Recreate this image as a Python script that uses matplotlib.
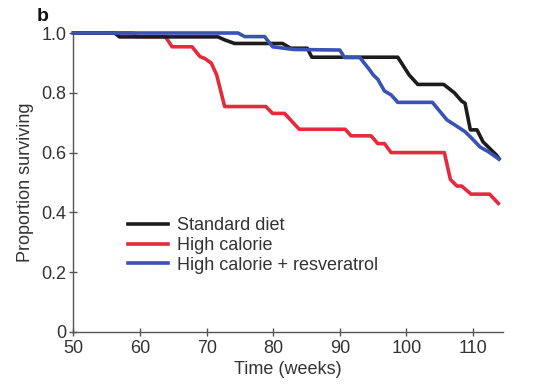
import matplotlib
matplotlib.use("Agg")
import matplotlib.pyplot as plt

# Survival curves (week, proportion surviving)
std_weeks = [50, 56.2, 56.9, 71.7, 72.7, 74.2, 81.4, 82.6, 85.1, 85.8, 98.7, 100.4,
             101.7, 105.6, 107.2, 108.3, 108.8, 109.6, 110.6, 111.5, 113.5, 113.9]
std_surv = [1.0, 1.0, 0.987, 0.987, 0.977, 0.965, 0.965, 0.949, 0.949, 0.919, 0.919, 0.86,
            0.828, 0.828, 0.80, 0.772, 0.765, 0.676, 0.676, 0.636, 0.592, 0.58]

hc_weeks = [50, 59.0, 59.4, 63.8, 64.8, 67.8, 69.0, 69.7, 70.7, 71.5, 72.7, 78.9, 79.9,
            81.7, 83.9, 90.8, 91.7, 94.7, 95.7, 96.7, 97.7, 105.7, 106.6, 107.6, 108.3,
            109.7, 112.5, 113.8]
hc_surv = [1.0, 1.0, 0.988, 0.988, 0.954, 0.954, 0.921, 0.915, 0.899, 0.86, 0.754, 0.754,
           0.731, 0.731, 0.678, 0.678, 0.656, 0.656, 0.63, 0.63, 0.6, 0.6, 0.51, 0.488, 0.488,
           0.461, 0.461, 0.43]

hcr_weeks = [50, 74.7, 75.7, 78.7, 79.9, 83.0, 90.0, 90.7, 93.0, 94.5, 95.0, 95.7, 96.7,
             97.7, 98.7, 103.9, 106.1, 107.3, 108.8, 109.8, 111.1, 112.3, 113.9]
hcr_surv = [1.0, 1.0, 0.988, 0.988, 0.954, 0.945, 0.943, 0.918, 0.918, 0.876, 0.86, 0.845,
            0.806, 0.793, 0.768, 0.768, 0.709, 0.692, 0.67, 0.648, 0.618, 0.603, 0.578]

x_ticks = [50, 60, 70, 80, 90, 100, 110]
y_ticks = [0, 0.2, 0.4, 0.6, 0.8, 1.0]
y_tick_labels = ["0", "0.2", "0.4", "0.6", "0.8", "1.0"]

plt.rcParams['font.family'] = ['Liberation Sans', 'DejaVu Sans']
text_col = '#333333'
fs = 13

fig = plt.figure(figsize=(5.42, 3.86), dpi=100)
ax = fig.add_axes([0.1356, 0.140, 0.7924, 0.7745])

lw = 2.6
ax.plot(std_weeks, std_surv, color='#1c1c1c', lw=lw, label='Standard diet',
        solid_joinstyle='round', clip_on=False, zorder=3)
ax.plot(hc_weeks, hc_surv, color='#e42a3c', lw=lw, label='High calorie',
        solid_joinstyle='round', clip_on=False, zorder=2)
ax.plot(hcr_weeks, hcr_surv, color='#3a52b4', lw=lw, label='High calorie + resveratrol',
        solid_joinstyle='round', clip_on=False, zorder=4)

ax.set_xlim(50, 114.5)
ax.set_ylim(0, 1.0)
ax.set_xticks(x_ticks)
ax.set_yticks(y_ticks)
ax.set_yticklabels(y_tick_labels)

for side in ['top', 'right']:
    ax.spines[side].set_visible(False)
for side in ['left', 'bottom']:
    ax.spines[side].set_color('#555555')
    ax.spines[side].set_linewidth(1.0)

ax.tick_params(direction='inout', length=6, width=1.0, color='#555555',
               labelsize=fs, labelcolor=text_col)
ax.tick_params(axis='x', pad=3)
ax.tick_params(axis='y', pad=2)

ax.set_xlabel('Time (weeks)', fontsize=fs, color=text_col, labelpad=3)
ax.set_ylabel('Proportion surviving', fontsize=fs, color=text_col, labelpad=5)

leg = ax.legend(loc='upper left', bbox_to_anchor=(0.127, 0.383), frameon=False,
                fontsize=fs, handlelength=2.2, handletextpad=0.5,
                labelspacing=0.14, borderpad=0, borderaxespad=0)
for t in leg.get_texts():
    t.set_color(text_col)

fig.text(0.068, 0.958, 'b', fontsize=14, fontweight='bold', color='#111111',
         ha='left', va='center')

fig.savefig('out.png', dpi=100)
